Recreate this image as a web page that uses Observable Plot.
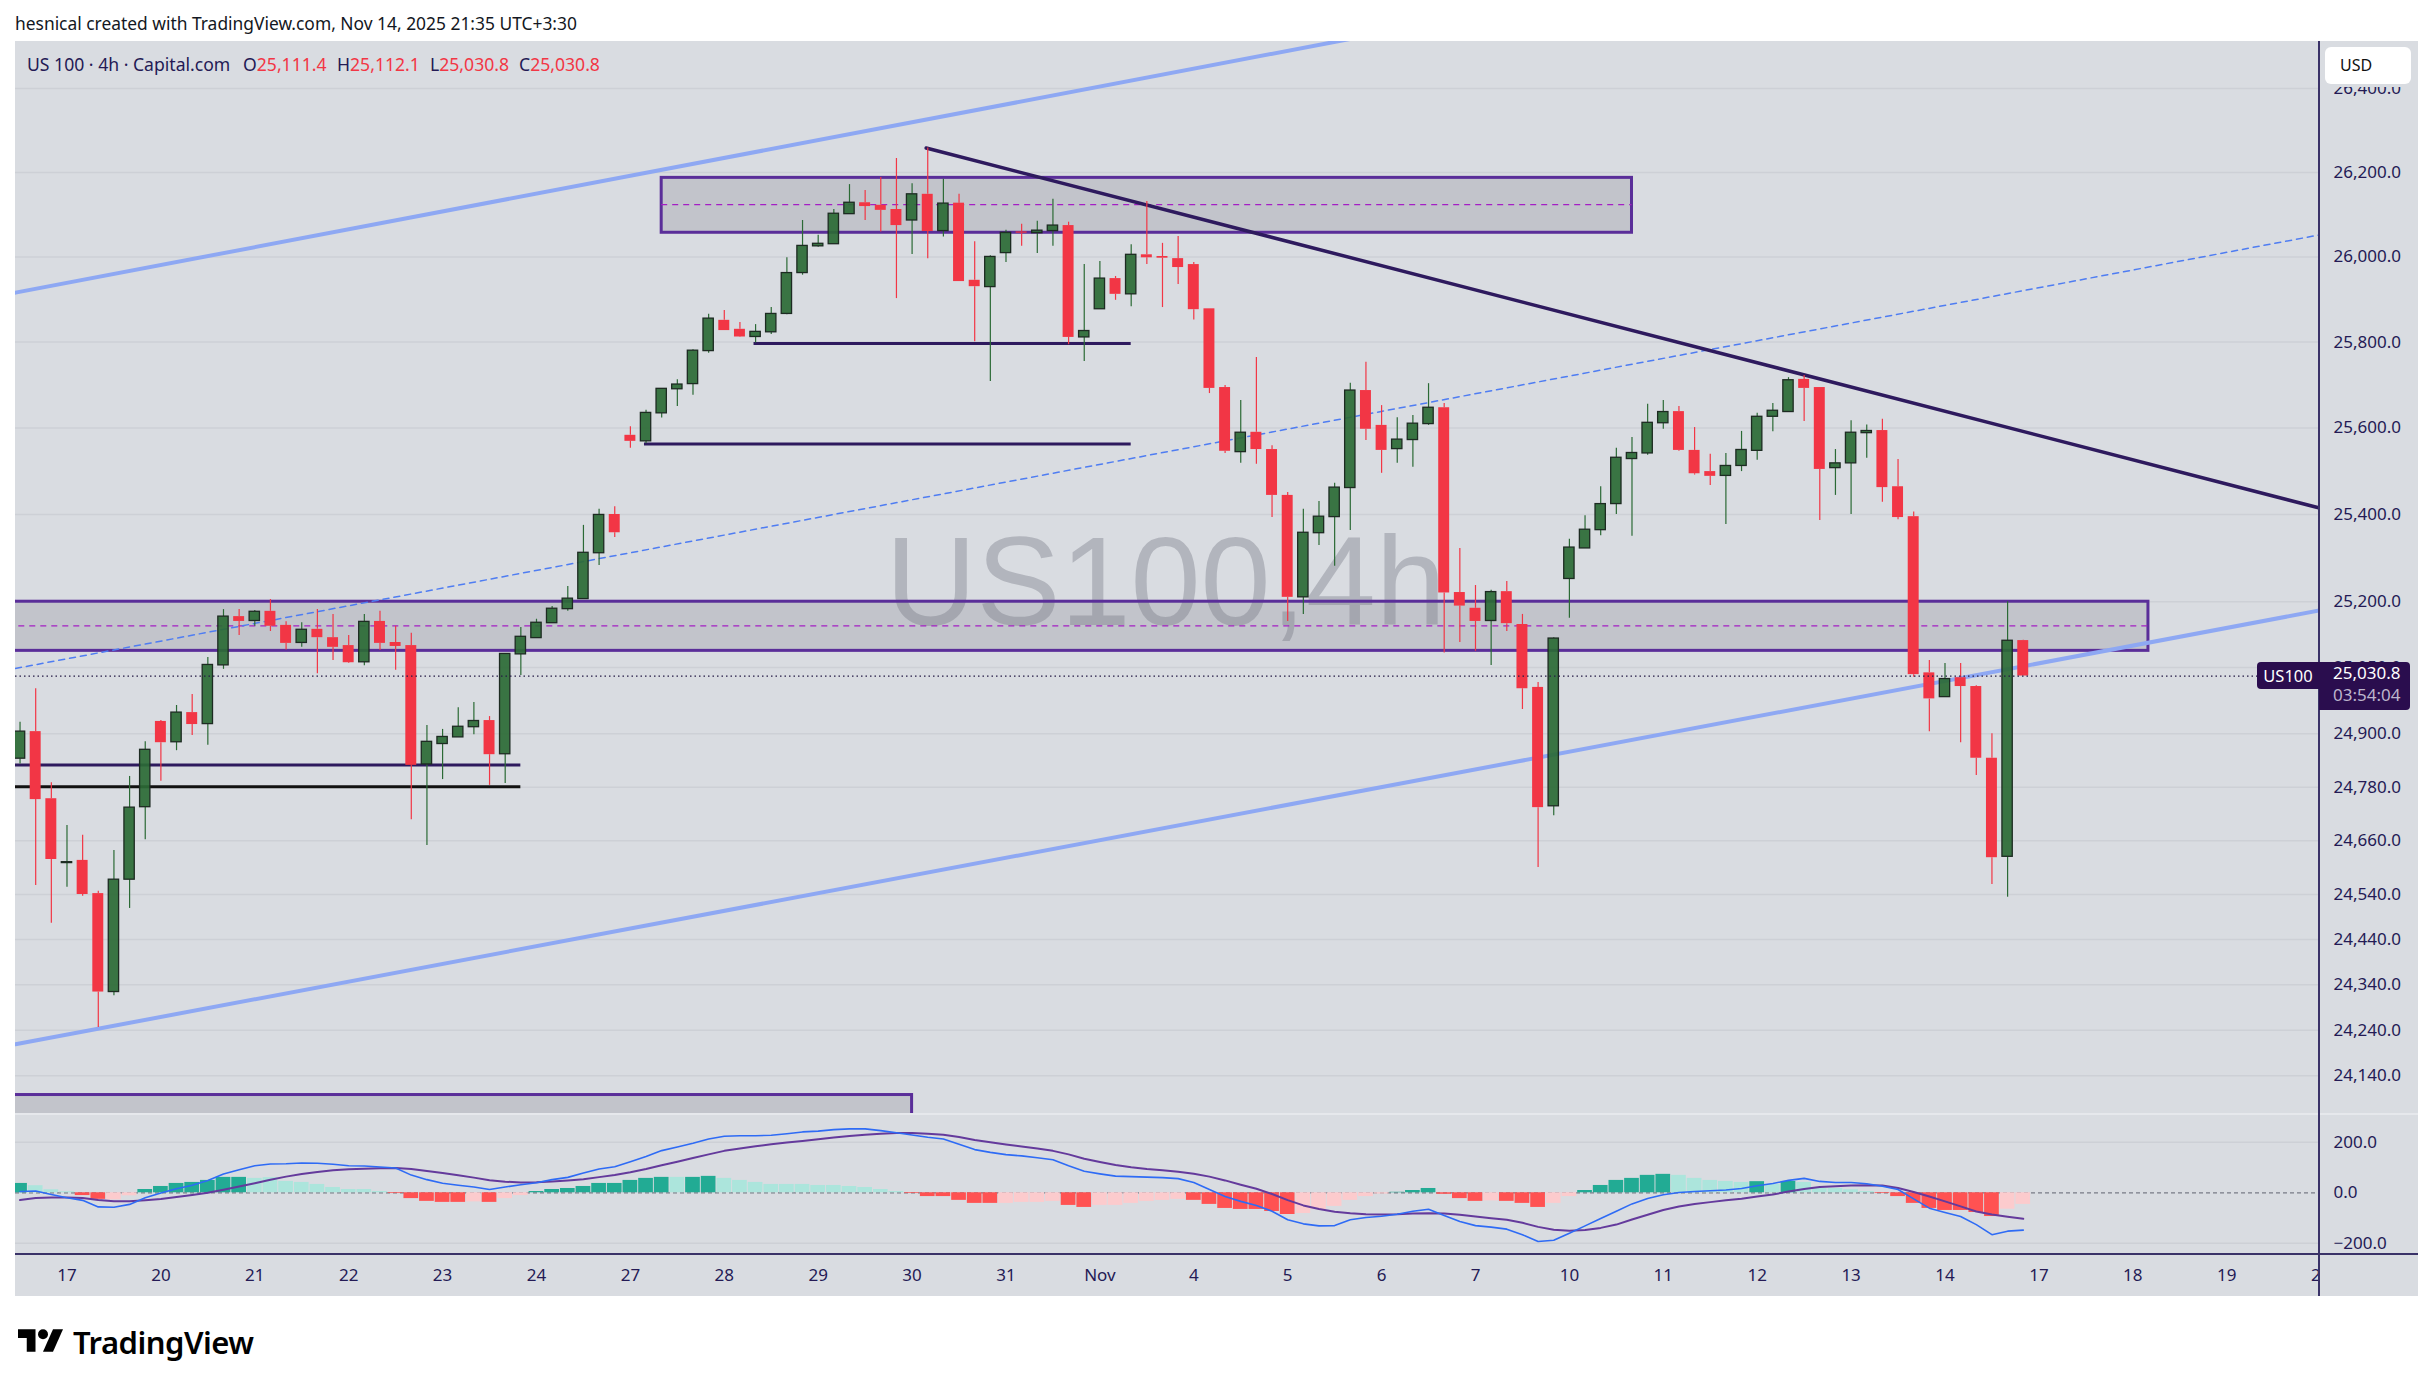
<!DOCTYPE html>
<html><head><meta charset="utf-8">
<script src="https://cdn.jsdelivr.net/npm/d3@7"></script>
<script src="https://cdn.jsdelivr.net/npm/@observablehq/plot@0.6"></script>
<style>
html,body{margin:0;padding:0;background:#fff;width:2433px;height:1386px;overflow:hidden}
body{font-family:"Noto Sans",sans-serif;color:#241a55;position:relative}
.abs{position:absolute;white-space:nowrap}
#panel{left:15px;top:41px;width:2403px;height:1255px;background:#d9dce1}
svg{display:block}
</style></head><body>
<div class="abs" id="panel"></div>
<div class="abs" id="pricePane" style="left:15px;top:41px"></div>
<div class="abs" id="macdPane" style="left:15px;top:1114px"></div>
<div id="chrome"></div>
<script>
const opens=[24844,24905,24754,24610,24616,24542,24324,24573,24735,24928,24881,24948,24922,25055,25166,25156,25178,25146,25106,25137,25118,25100,25062,25155,25107,25100,24831,24877,24892,24915,24930,24854,25080,25117,25151,25183,25206,25311,25400,25583,25569,25634,25690,25702,25779,25851,25830,25812,25823,25866,25962,26025,26030,26101,26128,26122,26112,26086,26148,26061,26127,25945,25929,26009,26059,26056,26061,26074,25811,25877,25949,25912,26005,26001,25996,25982,25878,25694,25544,25590,25550,25444,25210,25357,25394,25461,25687,25606,25551,25572,25609,25647,25221,25185,25156,25223,25148,25005,24737,25252,25322,25364,25424,25528,25541,25611,25638,25548,25499,25489,25512,25547,25626,25637,25713,25694,25507,25518,25588,25594,25464,25395,25038,24983,25027,25007,24845,24624,25111.4];
const highs=[24926,25002,24790,24694,24672,24547,24638,24804,24882,24930,24964,24989,25073,25182,25182,25180,25205,25154,25152,25182,25171,25123,25171,25178,25144,25128,24919,24910,24959,24971,24939,25081,25141,25160,25189,25235,25375,25412,25418,25603,25641,25691,25712,25782,25865,25874,25846,25841,25881,25998,26086,26051,26112,26171,26157,26188,26233,26173,26258,26184,26148,26036,26003,26063,26077,26084,26136,26082,25982,25989,25954,26029,26131,26032,26048,25987,25878,25699,25664,25764,25559,25451,25412,25430,25472,25704,25753,25652,25624,25629,25703,25657,25322,25237,25226,25246,25171,25016,25118,25343,25397,25464,25553,25578,25655,25664,25650,25601,25539,25541,25592,25634,25657,25717,25722,25694,25550,25617,25607,25620,25527,25406,25066,25059,25059,25009,24900,25200,25112.1];
const lows=[24832,24560,24476,24556,24536,24246,24316,24509,24662,24793,24862,24896,24874,25046,25123,25144,25132,25090,25096,25036,25066,25059,25054,25089,25044,24707,24649,24797,24892,24898,24784,24788,25032,25117,25151,25178,25206,25283,25347,25553,25564,25623,25650,25676,25774,25827,25811,25798,25818,25864,25957,26023,26030,26101,26086,26059,25902,26006,25996,26047,25942,25801,25708,25987,26025,26008,26025,25794,25755,25877,25898,25883,25982,25881,25935,25852,25680,25541,25518,25516,25393,25155,25171,25329,25281,25363,25571,25495,25518,25509,25606,25083,25107,25087,25055,25132,24955,24600,24716,25162,25322,25351,25400,25350,25537,25597,25546,25491,25467,25377,25499,25525,25591,25637,25615,25386,25444,25400,25530,25428,25388,25028,24905,24983,24880,24806,24562,24534,25030.8];
const closes=[24905,24752,24618,24612,24540,24324,24573,24734,24864,24880,24948,24921,25056,25166,25155,25177,25144,25105,25136,25118,25096,25061,25154,25105,25098,24829,24882,24893,24916,24929,24853,25081,25120,25152,25184,25207,25312,25399,25358,25569,25635,25691,25701,25780,25855,25827,25812,25824,25866,25962,26026,26031,26102,26128,26119,26110,26074,26148,26060,26126,25942,25930,26000,26057,26056,26062,26074,25811,25826,25949,25912,26005,25998,25997,25975,25876,25692,25546,25589,25550,25444,25210,25358,25395,25462,25687,25597,25548,25573,25610,25647,25220,25190,25155,25222,25150,25002,24734,25116,25324,25365,25424,25531,25542,25612,25637,25548,25494,25488,25512,25549,25626,25640,25711,25692,25504,25518,25589,25593,25462,25393,25034,24979,25024,25007,24845,24622,25111,25030.8];
const macdHist=[37,28,12,4,-11,-26,-28,-12,13,25,37,41,49,61,61,57,60,45,41,33,21,13,13,5,-3,-23,-34,-38,-38,-36,-38,-23,-11,5,13,17,25,37,37,49,57,61,61,61,65,57,49,41,33,33,33,29,29,25,21,13,5,-3,-15,-15,-30,-42,-42,-42,-38,-38,-34,-50,-58,-50,-50,-42,-34,-30,-26,-30,-46,-62,-66,-66,-74,-86,-82,-66,-54,-30,-15,-5,2,9,17,-6,-23,-34,-32,-34,-42,-58,-42,-15,9,29,49,57,69,73,69,57,49,45,41,44,33,45,41,17,17,12,5,-3,-15,-42,-62,-70,-70,-78,-94,-65,-46];
const macdLight=[1,2,3,6,7,15,16,17,18,19,20,21,22,23,29,31,32,42,45,46,47,48,49,50,51,52,53,54,55,56,63,64,65,66,69,70,71,72,73,74,82,83,84,85,86,87,94,98,99,106,107,108,109,110,112,114,115,116,117,118,127,128];
const macdLine=[5,7,-7,-20,-30,-56,-57,-46,-20,-1,16,30,49,74,91,107,114,115,118,117,113,107,106,102,98,70,52,38,30,23,13,23,32,40,52,61,78,94,103,123,144,167,181,196,213,224,226,226,228,234,241,244,250,253,253,246,238,229,220,213,192,171,160,151,146,139,131,107,85,75,66,64,62,60,56,41,13,-15,-34,-50,-73,-107,-123,-131,-130,-107,-98,-93,-85,-73,-65,-90,-114,-130,-136,-144,-166,-193,-188,-160,-131,-102,-73,-44,-23,-8,1,5,8,11,17,28,37,49,57,45,41,41,36,26,13,-24,-61,-78,-94,-126,-166,-152,-148];
const signalLine=[-29,-21,-19,-19,-21,-29,-34,-34,-30,-25,-17,-9,0,12,25,38,52,64,74,82,89,93,95,97,98,94,86,78,69,60,50,44,41,42,45,49,54,62,70,81,94,109,123,138,152,166,175,184,192,199,205,212,219,225,230,234,237,237,234,230,221,209,200,191,183,175,166,152,135,122,110,101,94,89,83,75,64,49,32,16,-5,-29,-50,-64,-75,-81,-85,-86,-85,-82,-81,-82,-87,-94,-101,-107,-119,-135,-146,-150,-147,-139,-126,-106,-87,-68,-54,-44,-37,-30,-24,-15,-7,5,15,23,26,29,30,29,19,3,-15,-34,-54,-74,-86,-95,-103];
const priceTicks=[26400,26200,26000,25800,25600,25400,25200,25050,24900,24780,24660,24540,24440,24340,24240,24140];
const macdTicks=[200,0,-200];
const timeTickBars=[3,9,15,21,27,33,39,45,51,57,63,69,75,81,87,93,99,105,111,117,123,129,135,141,147];
const timeTickLabels=["17","20","21","22","23","24","27","28","29","30","31","Nov","4","5","6","7","10","11","12","13","14","17","18","19","20"];
// drawings: bar index + price
const upperChannel=[{i:-0.29,p:25916},{i:86,p:26526}];
const lowerChannel=[{i:-0.29,p:24209},{i:146.93,p:25180}];
const medianChannel=[{i:-0.29,p:25048},{i:146.93,p:26052}];
const downTrend=[{i:57.9,p:26258},{i:146.93,p:25415}];
const zones=[{i1:41,i2:103,lo:26057,hi:26187,mid:26123.5},{i1:-5,i2:136,lo:25088,hi:25200,mid:25145},{i1:-5,i2:57,lo:23900,hi:24098}];
const levels=[{i1:-5,i2:32,p:24830,c:"#2e1a5e"},{i1:-5,i2:32,p:24781,c:"#111111"},{i1:46.9,i2:71,p:25797,c:"#2e1a5e"},{i1:39.9,i2:71,p:25563,c:"#2e1a5e"}];
const lastPrice=25030.8;

const bars=opens.map((o,i)=>({i,open:o,high:highs[i],low:lows[i],close:closes[i],up:closes[i]>=o}));
const upBars=bars.filter(d=>d.up), downBars=bars.filter(d=>!d.up);
const wicks=bars.flatMap(d=>[{i:d.i,a:d.high,b:Math.max(d.open,d.close),up:d.up},{i:d.i,a:Math.min(d.open,d.close),b:d.low,up:d.up}]);
const xDomain=[-0.29,146.93];
const GREEN="#2b6a35",RED="#f23645",BORDER="#1d2b22",INK="#241a55";
const FONT='"Noto Sans",sans-serif';
const fmt=d3.format(",.1f");

const pricePlot=Plot.plot({
  width:2403,height:1073,marginLeft:0,marginRight:99,marginTop:0,marginBottom:0,
  style:{background:"transparent",color:INK,fontFamily:FONT,overflow:"visible"},
  x:{domain:xDomain,axis:null},
  y:{type:"log",domain:[24055.5,26512.7],range:[1073,0]},
  marks:[
    Plot.ruleY(priceTicks,{y:d=>d,stroke:"#cdd0d6",strokeWidth:1.5}),
    Plot.text(["US100,4h"],{x:[73.2],y:[25240],text:d=>d,fontSize:126,fontFamily:'"Liberation Sans",sans-serif',fill:"#787b86",fillOpacity:0.4,textAnchor:"middle",clip:true}),
    Plot.rect(zones,{x1:"i1",x2:"i2",y1:"lo",y2:"hi",fill:"#787b86",fillOpacity:0.24,stroke:"#5a2e99",strokeWidth:3,clip:true}),
    Plot.ruleY(zones.filter(z=>z.mid),{x1:"i1",x2:"i2",y:"mid",stroke:"#a41fc4",strokeWidth:1.3,strokeDasharray:"6 5",clip:true}),
    Plot.line(upperChannel,{x:"i",y:"p",stroke:"#8ea8f3",strokeWidth:4,clip:true}),
    Plot.line(lowerChannel,{x:"i",y:"p",stroke:"#8ea8f3",strokeWidth:4,clip:true}),
    Plot.line(medianChannel,{x:"i",y:"p",stroke:"#4f7df2",strokeWidth:1.5,strokeDasharray:"6 5",clip:true}),
    Plot.ruleY(levels,{x1:"i1",x2:"i2",y:"p",stroke:"c",strokeWidth:3,clip:true}),
    Plot.line(downTrend,{x:"i",y:"p",stroke:"#2e1a5e",strokeWidth:3.5,clip:true}),
    Plot.ruleX(wicks.filter(d=>d.up),{x:"i",y1:"a",y2:"b",stroke:GREEN,strokeWidth:1.2,clip:true}),
    Plot.ruleX(wicks.filter(d=>!d.up),{x:"i",y1:"a",y2:"b",stroke:RED,strokeWidth:1.2,clip:true}),
    Plot.rect(downBars,{x1:d=>d.i-0.35,x2:d=>d.i+0.35,y1:"open",y2:"close",fill:RED,clip:true}),
    Plot.rect(upBars,{x1:d=>d.i-0.33,x2:d=>d.i+0.33,y1:"open",y2:"close",fill:GREEN,fillOpacity:0.92,stroke:BORDER,strokeWidth:1.3,clip:true}),
    Plot.ruleY([lastPrice],{y:d=>d,stroke:"#241a45",strokeWidth:1.3,strokeDasharray:"1.5 3"}),
    Plot.axisY({anchor:"right",ticks:priceTicks,tickFormat:d=>fmt(d),tickSize:0,tickPadding:14,fontSize:17,label:null})
  ]
});
document.getElementById("pricePane").append(pricePlot);

const histRows=macdHist.map((v,i)=>({i,v,light:macdLight.includes(i)}));
const lineRows=(arr)=>arr.map((v,i)=>({i,v}));
const histColor=(pos,light)=>pos?(light?"#ace5dc":"#22ab94"):(light?"#fccbcd":"#ff5252");
const histMark=(pos,light)=>Plot.rect(histRows.filter(d=>(d.v>=0)===pos&&d.light===light),{x1:d=>d.i-0.47,x2:d=>d.i+0.47,y1:0,y2:"v",fill:histColor(pos,light),clip:true});
const macdPlot=Plot.plot({
  width:2403,height:182,marginLeft:0,marginRight:99,marginTop:0,marginBottom:42,
  style:{background:"transparent",color:INK,fontFamily:FONT,overflow:"visible"},
  x:{domain:xDomain},
  y:{domain:[-244.4,310],range:[140,0]},
  marks:[
    Plot.ruleY([200,-200],{y:d=>d,stroke:"#cdd0d6",strokeWidth:1.5}),
    Plot.ruleY([0],{y:d=>d,stroke:"#787b86",strokeWidth:1.2,strokeDasharray:"4 3"}),
    histMark(true,false),histMark(true,true),histMark(false,false),histMark(false,true),
    Plot.line(lineRows(signalLine),{x:"i",y:"v",stroke:"#643a9c",strokeWidth:2}),
    Plot.line(lineRows(macdLine),{x:"i",y:"v",stroke:"#2e6bf5",strokeWidth:1.6}),
    Plot.axisY({anchor:"right",ticks:macdTicks,tickFormat:d=>d3.format(".1f")(d),tickSize:0,tickPadding:14,fontSize:17,label:null}),
    Plot.axisX({anchor:"bottom",ticks:timeTickBars,tickFormat:d=>timeTickLabels[timeTickBars.indexOf(d)],tickSize:0,tickPadding:14,fontSize:17,label:null})
  ]
});
document.getElementById("macdPane").append(macdPlot);

const chrome=document.getElementById("chrome");
function box(css,html){const e=document.createElement("div");e.className="abs";e.style.cssText+=css;if(html)e.innerHTML=html;chrome.append(e);return e}
box("left:2320px;top:1255px;width:98px;height:41px;background:#d9dce1");
box("left:15px;top:1113px;width:2403px;height:2px;background:#e6e8ec");
box("left:15px;top:1253px;width:2403px;height:2px;background:#3a3268");
box("left:2318px;top:41px;width:2px;height:1255px;background:#3a3268");
box("left:2320px;top:41px;width:98px;height:46px;background:#d9dce1");
box("left:2325px;top:47px;width:86px;height:37px;background:#fff;border-radius:6px;color:#111;font-size:16px;line-height:37px;text-indent:15px","USD");
box("left:2257px;top:662px;width:62px;height:27px;background:#2a0d4e;border-radius:4px 0 0 4px;color:#fff;font-size:16.5px;line-height:27px;text-align:center","US100");
box("left:2319px;top:662px;width:91px;height:48px;background:#2a0d4e;border-radius:0 4px 4px 0");
box("left:2333px;top:661px;color:#fff;font-size:17px;line-height:24px","25,030.8");
box("left:2333px;top:683px;color:#bdb5cc;font-size:17px;line-height:24px","03:54:04");
box("left:15px;top:11px;color:#131722;font-size:17.4px;line-height:24px","hesnical created with TradingView.com, Nov 14, 2025 21:35 UTC+3:30");
box("left:27px;top:52px;font-size:17.6px;line-height:24px","US 100 · 4h · Capital.com");
[[243,"O"],[337,"H"],[430,"L"],[519,"C"]].forEach(([x,k],n)=>{
  const v=["25,111.4","25,112.1","25,030.8","25,030.8"][n];
  box(`left:${x}px;top:52px;font-size:17.6px;line-height:24px`,`${k}<span style="color:#f23645">${v}</span>`);
});
box("left:18px;top:1329px;width:45px;height:23px",'<svg width="45" height="23" viewBox="0 0 36 18"><path d="M14 18H7V7H0V0h14z" fill="#000"/><circle cx="20" cy="4" r="4" fill="#000"/><path d="M28 18h-8L28 0h8z" fill="#000"/></svg>');
box("left:73px;top:1322px;color:#000;font-size:31px;line-height:40px;font-weight:600;letter-spacing:-0.5px","TradingView");
</script>
</body></html>
